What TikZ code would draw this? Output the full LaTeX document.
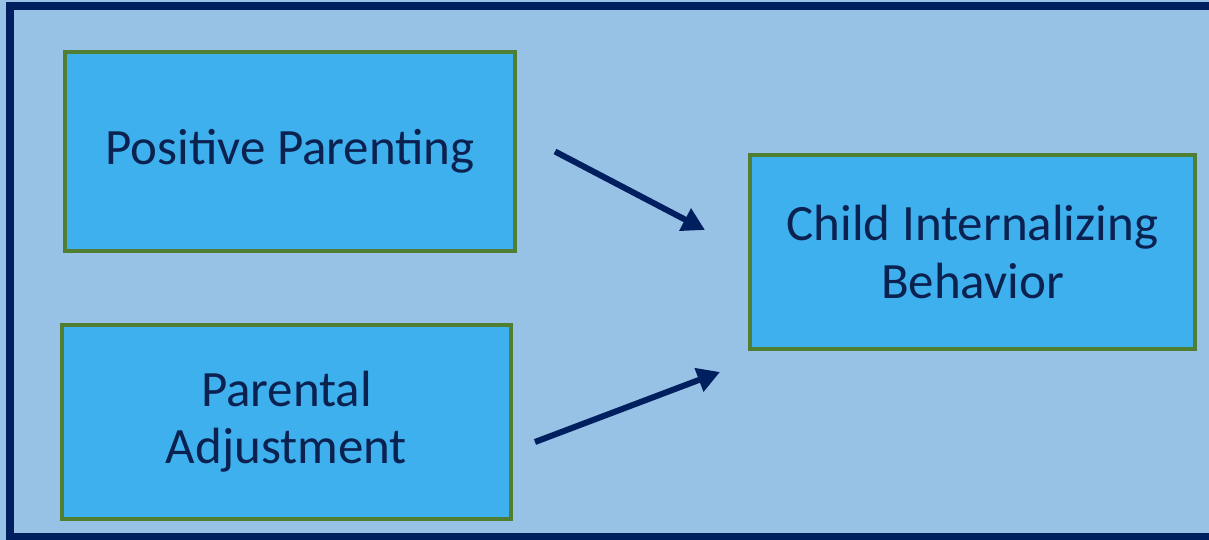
\documentclass[tikz,border=0pt]{standalone}
\usepackage{fontspec}
\setmainfont{Carlito}
\usepackage{tikz}
\usetikzlibrary{arrows.meta,positioning}
\definecolor{paleblue}{HTML}{97C1E5}
\definecolor{boxblue}{HTML}{3FB0EE}
\definecolor{framenavy}{HTML}{001F5F}
\definecolor{boxgreen}{HTML}{507E32}
\definecolor{textnavy}{HTML}{0B2150}
\tikzstyle{factor}=[rectangle, draw=boxgreen, line width=0.08cm, fill=boxblue, text=textnavy, align=center, font=\fontsize{29}{32.5}\selectfont]
\tikzstyle{path1}=[draw=framenavy, line width=0.12cm, -{Triangle[length=0.45cm,width=0.48cm]}]

\begin{document}
\begin{tikzpicture}
\useasboundingbox (0,0) rectangle (24.18,10.8);
%background
\clip (0,0) rectangle (24.18,10.8);
\fill[paleblue] (0,0) rectangle (24.18,10.8);
\draw[framenavy, line width=0.16cm] (0.2,0.05) rectangle (24.6,10.68);

%Boxes
\node[factor, minimum width=9cm, minimum height=3.98cm] (pp) at (5.8,7.77){Positive Parenting};
\node[factor, minimum width=8.98cm, minimum height=3.88cm] (pa) at (5.73,2.36){Parental\\Adjustment};
\node[factor, minimum width=8.9cm, minimum height=3.88cm] (cib) at (19.45,5.76){Child Internalizing\\Behavior};

%Arrows
\draw[path1] ([xshift=0.76cm]pp.east) -- ([xshift=-0.86cm,yshift=0.44cm]cib.west);
\draw[path1] ([xshift=0.44cm,yshift=-0.4cm]pa.east) -- ([xshift=-0.56cm,yshift=-0.42cm]cib.south west);
\end{tikzpicture}
\end{document}
